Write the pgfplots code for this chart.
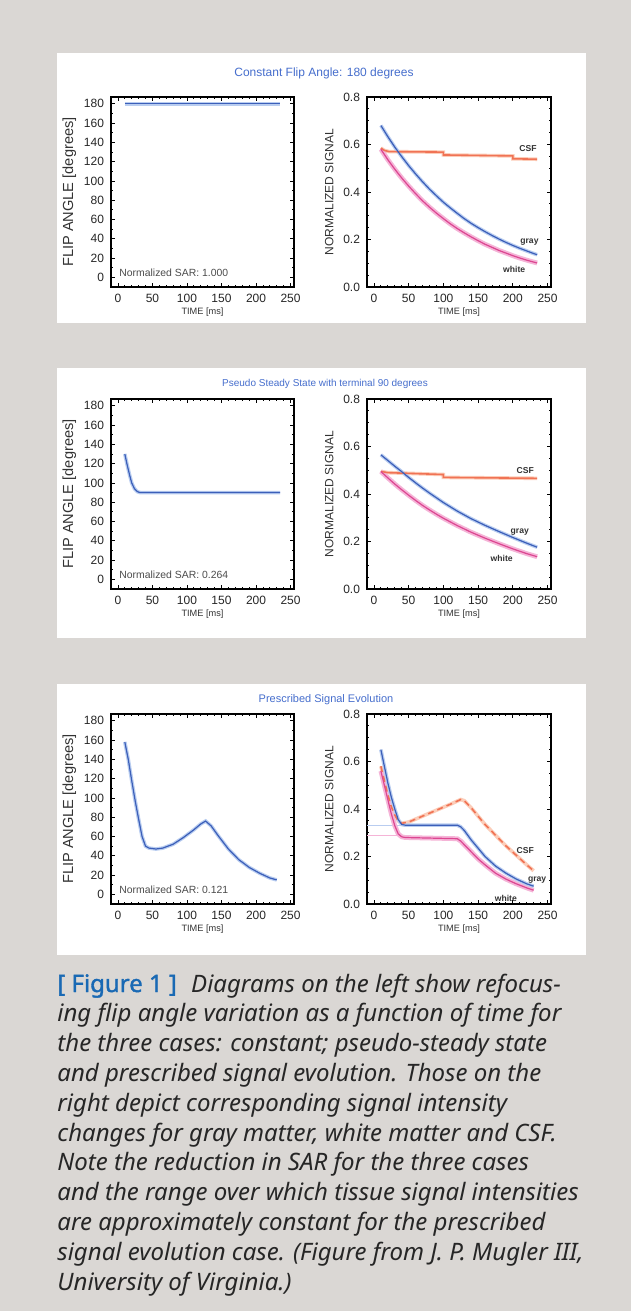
\documentclass[border=0pt]{standalone}
\usepackage{fontspec}
\setmainfont{Liberation Sans}
\newfontfamily\capfont{Noto Sans}
\usepackage{pgfplots}
\usepackage{pgfplotstable}
\pgfplotsset{compat=1.18}

\definecolor{bg}{RGB}{218,215,212}
\definecolor{ttl}{RGB}{70,110,205}
\definecolor{gm}{RGB}{60,95,185}
\definecolor{gmh}{RGB}{185,205,240}
\definecolor{csf}{RGB}{240,115,85}
\definecolor{csfh}{RGB}{252,205,185}
\definecolor{wm}{RGB}{220,70,145}
\definecolor{wmh}{RGB}{245,180,215}
\definecolor{figblue}{RGB}{25,105,180}

% flip angle curves
\pgfplotstableread{
t fa
10 180
235 180
}\faA
\pgfplotstableread{
t fa
10 130
13 120
17 108
20 100
24 94
28 91
32 90
235 90
}\faB
\pgfplotstableread{
t fa
10 158
15 140
20 118
25 97
30 78
35 60
40 50
45 48
55 47
65 48
80 52
95 59
110 67
120 73
127 76
135 71
145 61
160 47
175 36
190 28
205 22
220 17
230 15
}\faC

% signal curves, case 1
\pgfplotstableread{
t s
10 0.680
20 0.633
30 0.589
40 0.549
50 0.511
60 0.476
70 0.443
80 0.412
90 0.384
100 0.357
110 0.333
120 0.310
130 0.288
140 0.268
150 0.250
160 0.233
170 0.217
180 0.202
190 0.188
200 0.175
210 0.163
220 0.152
230 0.141
235 0.136
}\gmA
\pgfplotstableread{
t s
10 0.580
20 0.536
30 0.496
40 0.459
50 0.425
60 0.393
70 0.363
80 0.336
90 0.311
100 0.288
110 0.266
120 0.246
130 0.228
140 0.211
150 0.195
160 0.180
170 0.167
180 0.154
190 0.143
200 0.132
210 0.122
220 0.113
230 0.105
235 0.101
}\wmA
\pgfplotstableread{
t s
10 0.585
15 0.575
22 0.570
100 0.568
100 0.556
200 0.552
200 0.540
235 0.538
}\csfA

% case 2
\pgfplotstableread{
t s
10 0.565
20 0.541
30 0.517
40 0.494
50 0.470
60 0.447
70 0.425
80 0.404
90 0.384
100 0.364
120 0.328
140 0.296
160 0.268
180 0.242
200 0.217
220 0.193
235 0.176
}\gmB
\pgfplotstableread{
t s
10 0.495
20 0.468
30 0.442
40 0.418
50 0.395
60 0.373
70 0.352
80 0.333
90 0.315
100 0.298
120 0.267
140 0.239
160 0.214
180 0.191
200 0.169
220 0.149
235 0.136
}\wmB
\pgfplotstableread{
t s
10 0.495
20 0.490
60 0.486
100 0.482
100 0.470
235 0.466
}\csfB

% case 3
\pgfplotstableread{
t s
10 0.650
15 0.580
20 0.510
25 0.450
30 0.400
35 0.355
40 0.335
45 0.332
120 0.332
125 0.325
130 0.310
140 0.270
150 0.235
160 0.200
175 0.160
190 0.130
205 0.105
220 0.085
230 0.075
}\gmC
\pgfplotstableread{
t s
10 0.560
15 0.500
20 0.440
25 0.380
30 0.330
35 0.295
40 0.283
45 0.280
120 0.275
125 0.265
130 0.250
140 0.220
150 0.190
160 0.165
175 0.130
190 0.105
205 0.085
220 0.068
230 0.058
}\wmC
\pgfplotstableread{
t s
10 0.580
15 0.520
20 0.460
25 0.410
30 0.375
35 0.350
40 0.340
50 0.345
70 0.370
90 0.395
110 0.420
125 0.440
130 0.435
140 0.405
150 0.370
160 0.335
175 0.290
190 0.245
205 0.205
220 0.165
230 0.140
}\csfC

\pgfplotsset{
  mri/.style={scale only axis, height=95pt, xmin=-10, xmax=255,
    xtick={0,50,...,250}, minor x tick num=4,
    tick align=inside, major tick length=2.2pt, minor tick length=1.1pt,
    every tick/.style={black, line width=0.4pt},
    axis line style={black, line width=0.7pt},
    tick label style={font=\fontsize{6}{7}\selectfont, text=black!85},
    /pgf/number format/assume math mode=true,
    xlabel={TIME [ms]},
    xlabel style={font=\fontsize{4.6}{5.5}\selectfont, text=black!80, yshift=4pt},
  },
  mrleft/.style={mri, width=91.5pt, ymin=-10, ymax=187,
    ytick={0,20,...,180}, minor y tick num=1,
    ylabel={FLIP ANGLE [degrees]}, ylabel shift=-3pt,
    ylabel style={font=\fontsize{7.3}{8}\selectfont, text=black!80}},
  mrright/.style={mri, width=92pt, ymin=0, ymax=0.8,
    ytick={0,0.2,0.4,0.6,0.8}, minor y tick num=3,
    yticklabel style={/pgf/number format/.cd, fixed, fixed zerofill, precision=1},
    ylabel={NORMALIZED SIGNAL}, ylabel shift=-2pt,
    ylabel style={font=\fontsize{6}{7}\selectfont, text=black!80}},
  halo/.style={line width=1.8pt, #1},
  thin/.style={line width=0.6pt, #1},
}
\newcommand{\sar}[1]{\node[anchor=west, font=\fontsize{5.2}{6}\selectfont, text=black!70] at (axis cs:-8,5) {Normalized SAR: #1};}
\newcommand{\tag}[3]{\node[font=\bfseries\fontsize{4.3}{5}\selectfont, text=black!80] at (axis cs:#1,#2) {#3};}

\begin{document}
\begin{tikzpicture}
\fill[bg] (0,0) rectangle (315.5pt,-655.5pt);
\useasboundingbox (0,0) rectangle (315.5pt,-655.5pt);
\fill[white] (28.5pt,-26.5pt) rectangle (293pt,-161.5pt);
\fill[white] (28.5pt,-184pt) rectangle (293pt,-319pt);
\fill[white] (28.5pt,-342pt) rectangle (293pt,-477.5pt);

\node[font=\fontsize{6}{7}\selectfont, text=ttl] at (162pt,-36.5pt) {Constant Flip Angle: 180 degrees};
\node[font=\fontsize{5}{6}\selectfont, text=ttl] at (162.5pt,-192pt) {Pseudo Steady State with terminal 90 degrees};
\node[font=\fontsize{5.5}{6}\selectfont, text=ttl] at (163pt,-350pt) {Prescribed Signal Evolution};

% ---- case 1
\begin{axis}[mrleft, at={(55.5pt,-143.5pt)}, anchor=south west]
\addplot[halo=gmh] table[x=t,y=fa] {\faA};
\addplot[thin=gm] table[x=t,y=fa] {\faA};
\sar{1.000}
\end{axis}
\begin{axis}[mrright, at={(183.5pt,-143.5pt)}, anchor=south west]
\addplot[halo=csfh] table[x=t,y=s] {\csfA};
\addplot[halo=wmh, line width=2.4pt] table[x=t,y=s] {\wmA};
\addplot[halo=gmh] table[x=t,y=s] {\gmA};
\addplot[thin=csf, line width=0.8pt] table[x=t,y=s] {\csfA};
\addplot[thin=wm] table[x=t,y=s] {\wmA};
\addplot[thin=gm] table[x=t,y=s] {\gmA};
\tag{222}{0.585}{CSF}
\tag{224}{0.19}{gray}
\tag{202}{0.075}{white}
\end{axis}

% ---- case 2
\begin{axis}[mrleft, at={(55.5pt,-294.5pt)}, anchor=south west]
\addplot[halo=gmh] table[x=t,y=fa] {\faB};
\addplot[thin=gm] table[x=t,y=fa] {\faB};
\sar{0.264}
\end{axis}
\begin{axis}[mrright, at={(183.5pt,-294.5pt)}, anchor=south west]
\addplot[halo=csfh] table[x=t,y=s] {\csfB};
\addplot[halo=wmh, line width=2.4pt] table[x=t,y=s] {\wmB};
\addplot[halo=gmh] table[x=t,y=s] {\gmB};
\addplot[thin=csf, line width=0.8pt] table[x=t,y=s] {\csfB};
\addplot[thin=wm] table[x=t,y=s] {\wmB};
\addplot[thin=gm] table[x=t,y=s] {\gmB};
\tag{218}{0.50}{CSF}
\tag{210}{0.24}{gray}
\tag{184}{0.13}{white}
\end{axis}

% ---- case 3
\begin{axis}[mrleft, at={(55.5pt,-452pt)}, anchor=south west]
\addplot[halo=gmh] table[x=t,y=fa] {\faC};
\addplot[thin=gm] table[x=t,y=fa] {\faC};
\sar{0.121}
\end{axis}
\begin{axis}[mrright, at={(183.5pt,-452pt)}, anchor=south west]
\addplot[thin=gmh, line width=0.4pt] coordinates {(-10,0.332) (40,0.332)};
\addplot[thin=wmh, line width=0.4pt] coordinates {(-10,0.288) (40,0.288)};
\addplot[halo=csfh] table[x=t,y=s] {\csfC};
\addplot[halo=wmh, line width=2.4pt] table[x=t,y=s] {\wmC};
\addplot[halo=gmh] table[x=t,y=s] {\gmC};
\addplot[thin=csf, line width=0.8pt, densely dashed] table[x=t,y=s] {\csfC};
\addplot[thin=wm] table[x=t,y=s] {\wmC};
\addplot[thin=gm] table[x=t,y=s] {\gmC};
\tag{218}{0.225}{CSF}
\tag{235}{0.10}{gray}
\tag{190}{0.025}{white}
\end{axis}

% ---- caption (base anchor of a multi-line node is its last line)
\node[anchor=base west, inner sep=0pt, align=left,
  font=\capfont\fontsize{12}{14.9}\selectfont, text=black!85]
  at (28.5pt,-645pt)
  {{\color{figblue}\addfontfeature{FakeBold=1.5}[ Figure 1 ]}\hspace{0.6em}\itshape Diagrams on the left show refocus-\\
   \itshape ing flip angle variation as a function of time for\\
   \itshape the three cases: constant; pseudo-steady state\\
   \itshape and prescribed signal evolution. Those on the\\
   \itshape right depict corresponding signal intensity\\
   \itshape changes for gray matter, white matter and CSF.\\
   \itshape Note the reduction in SAR for the three cases\\
   \itshape and the range over which tissue signal intensities\\
   \itshape are approximately constant for the prescribed\\
   \itshape signal evolution case. (Figure from J. P. Mugler III,\\
   \itshape University of Virginia.)};
\end{tikzpicture}
\end{document}
